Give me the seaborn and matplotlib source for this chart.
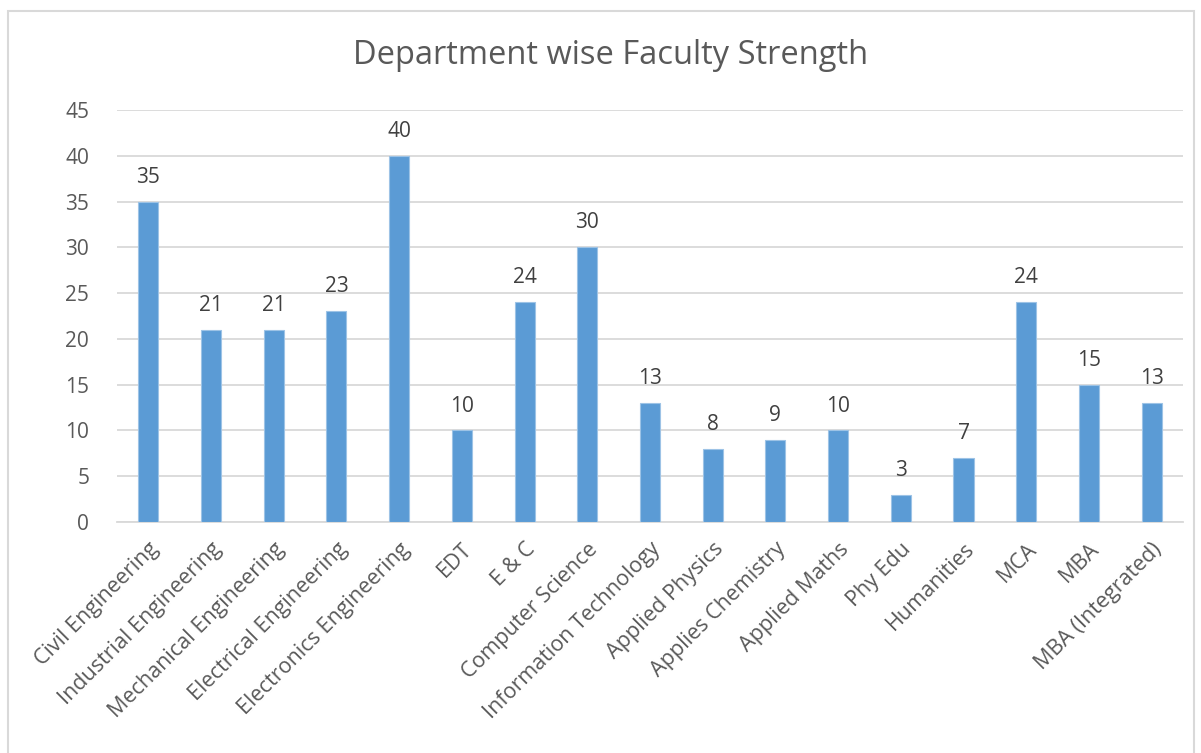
import matplotlib
matplotlib.use("Agg")
import matplotlib.pyplot as plt
import seaborn as sns
import pandas as pd
from matplotlib.patches import Rectangle

departments = ["Civil Engineering", "Industrial Engineering", "Mechanical Engineering",
               "Electrical Engineering", "Electronics Engineering", "EDT", "E & C",
               "Computer Science", "Information Technology", "Applied Physics",
               "Applies Chemistry", "Applied Maths", "Phy Edu", "Humanities",
               "MCA", "MBA", "MBA (Integrated)"]
faculty = [35, 21, 21, 23, 40, 10, 24, 30, 13, 8, 9, 10, 3, 7, 24, 15, 13]

sns.set_theme(style="white")
plt.rcParams['font.family'] = ['Open Sans', 'DejaVu Sans']

df = pd.DataFrame({"dept": departments, "count": faculty})

fig = plt.figure(figsize=(12.01, 7.53), dpi=100)
ax = fig.add_axes([0.0974, 0.3068, 0.8876, 0.5472])

sns.barplot(data=df, x="dept", y="count", color="#5B9BD5", width=0.32,
            saturation=1, ax=ax, zorder=3, edgecolor="#9DC3E6", linewidth=0.8)

ax.set_ylim(0, 45)
ax.set_yticks(range(0, 46, 5))
ax.set_xlim(-0.5, len(departments) - 0.5)
ax.grid(axis="y", color="#D9D9D9", linewidth=1.3, zorder=0)
ax.set_axisbelow(True)
for s in ["top", "right", "left"]:
    ax.spines[s].set_visible(False)
ax.spines["bottom"].set_color("#D9D9D9")
ax.spines["bottom"].set_linewidth(1.3)
ax.tick_params(axis="both", length=0, labelcolor="#595959")
ax.tick_params(axis="y", pad=20, labelsize=15)
ax.tick_params(axis="x", pad=12, labelsize=15.5)
ax.set_xticks(range(len(departments)))
ax.set_xticklabels(departments, rotation=45, ha="right", rotation_mode="anchor")
ax.set_xlabel("")
ax.set_ylabel("")

for c in ax.containers:
    ax.bar_label(c, padding=10, fontsize=15, color="#404040")

fig.text(0.508, 0.926, "Department wise Faculty Strength", ha="center", va="center",
         fontsize=23.5, color="#595959")

fig.patches.append(Rectangle((0.0065, -0.02), 0.988, 1.005, transform=fig.transFigure,
                             fill=False, edgecolor="#D9D9D9", linewidth=1.5))

fig.savefig("out.png", dpi=100)
